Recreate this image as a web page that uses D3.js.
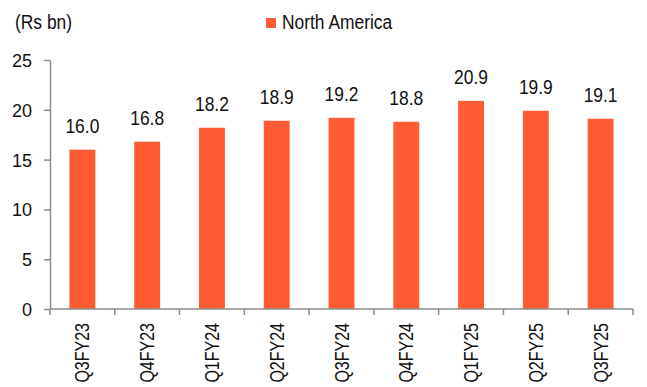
<!DOCTYPE html>
<html>
<head>
<meta charset="utf-8">
<script src="https://cdn.jsdelivr.net/npm/d3@7"></script>
<style>
  body { margin: 0; background: #fff; }
  svg text { font-family: "Liberation Sans", Arial, sans-serif; fill: #111; }
</style>
</head>
<body>
<div id="chart"></div>
<script>
    const quarters = ["Q3FY23", "Q4FY23", "Q1FY24", "Q2FY24", "Q3FY24", "Q4FY24", "Q1FY25", "Q2FY25", "Q3FY25"];
    const northAmerica = [16.0, 16.8, 18.2, 18.9, 19.2, 18.8, 20.9, 19.9, 19.1];
    const yTicks = [0, 5, 10, 15, 20, 25];
    const seriesName = "North America";
    const unitLabel = "(Rs bn)";

    const W = 647, H = 387;
    const margin = {top: 60, right: 14, bottom: 78, left: 50};
    const width = W - margin.left - margin.right,
        height = H - margin.top - margin.bottom;
    const barColor = "#ff5b35";
    const axisColor = "#8c8c8c";

    const svg = d3.select("#chart")
        .append("svg")
        .attr("width", W)
        .attr("height", H);

    const g = svg.append("g")
        .attr("transform", "translate(" + margin.left + "," + margin.top + ")");

    const x = d3.scaleBand()
        .domain(quarters)
        .range([0, width])
        .paddingInner(0.6)
        .paddingOuter(0.3);

    const y = d3.scaleLinear()
        .domain([0, 25])
        .range([height, 0]);

    // y axis
    const yAxis = g.append("g")
        .call(d3.axisLeft(y).tickValues(yTicks).tickSize(6).tickSizeOuter(0));
    yAxis.select(".domain").attr("stroke", axisColor).attr("stroke-width", 1.5);
    yAxis.selectAll(".tick line").attr("stroke", axisColor).attr("stroke-width", 1.5);
    yAxis.selectAll(".tick text")
        .attr("x", -18)
        .style("font-size", "18px")
        .attr("dy", "0.36em");

    // bars
    g.selectAll("rect.bar")
        .data(northAmerica)
        .join("rect")
        .attr("class", "bar")
        .attr("x", (d, i) => x(quarters[i]))
        .attr("y", d => y(d))
        .attr("width", x.bandwidth())
        .attr("height", d => height - y(d))
        .attr("fill", barColor);

    // value labels (narrow look: squeeze the text horizontally)
    g.selectAll("text.val")
        .data(northAmerica)
        .join("text")
        .attr("class", "val")
        .attr("transform", (d, i) => "translate(" + (x(quarters[i]) + x.bandwidth() / 2) + "," + (y(d) - 17) + ") scale(0.83,1)")
        .attr("text-anchor", "middle")
        .style("font-size", "21px")
        .text(d => d.toFixed(1));

    // x axis line + boundary ticks
    const gap = x.step() * x.paddingInner();
    const bounds = quarters.map(q => x(q) - gap / 2).concat([width]);
    bounds[0] = 0;
    const xAxis = g.append("g").attr("transform", "translate(0," + height + ")");
    xAxis.append("line")
        .attr("x1", 0).attr("x2", width)
        .attr("stroke", axisColor).attr("stroke-width", 1.5);
    xAxis.selectAll("line.tick")
        .data(bounds)
        .join("line")
        .attr("class", "tick")
        .attr("x1", d => d).attr("x2", d => d)
        .attr("y1", 0).attr("y2", 6)
        .attr("stroke", axisColor).attr("stroke-width", 1.5);
    xAxis.selectAll("text")
        .data(quarters)
        .join("text")
        .attr("transform", d => "translate(" + (x(d) + x.bandwidth() / 2 + 7) + ",14) rotate(-90) scale(0.8,1)")
        .attr("text-anchor", "end")
        .style("font-size", "20px")
        .text(d => d);

    // unit label
    svg.append("text")
        .attr("transform", "translate(15,29) scale(0.87,1)")
        .style("font-size", "20px")
        .text(unitLabel);

    // legend
    const legend = svg.append("g").attr("transform", "translate(266,18)");
    legend.append("rect")
        .attr("width", 10).attr("height", 10)
        .attr("fill", barColor);
    legend.append("text")
        .attr("transform", "translate(16,11) scale(0.87,1)")
        .style("font-size", "20px")
        .text(seriesName);
</script>
</body>
</html>
